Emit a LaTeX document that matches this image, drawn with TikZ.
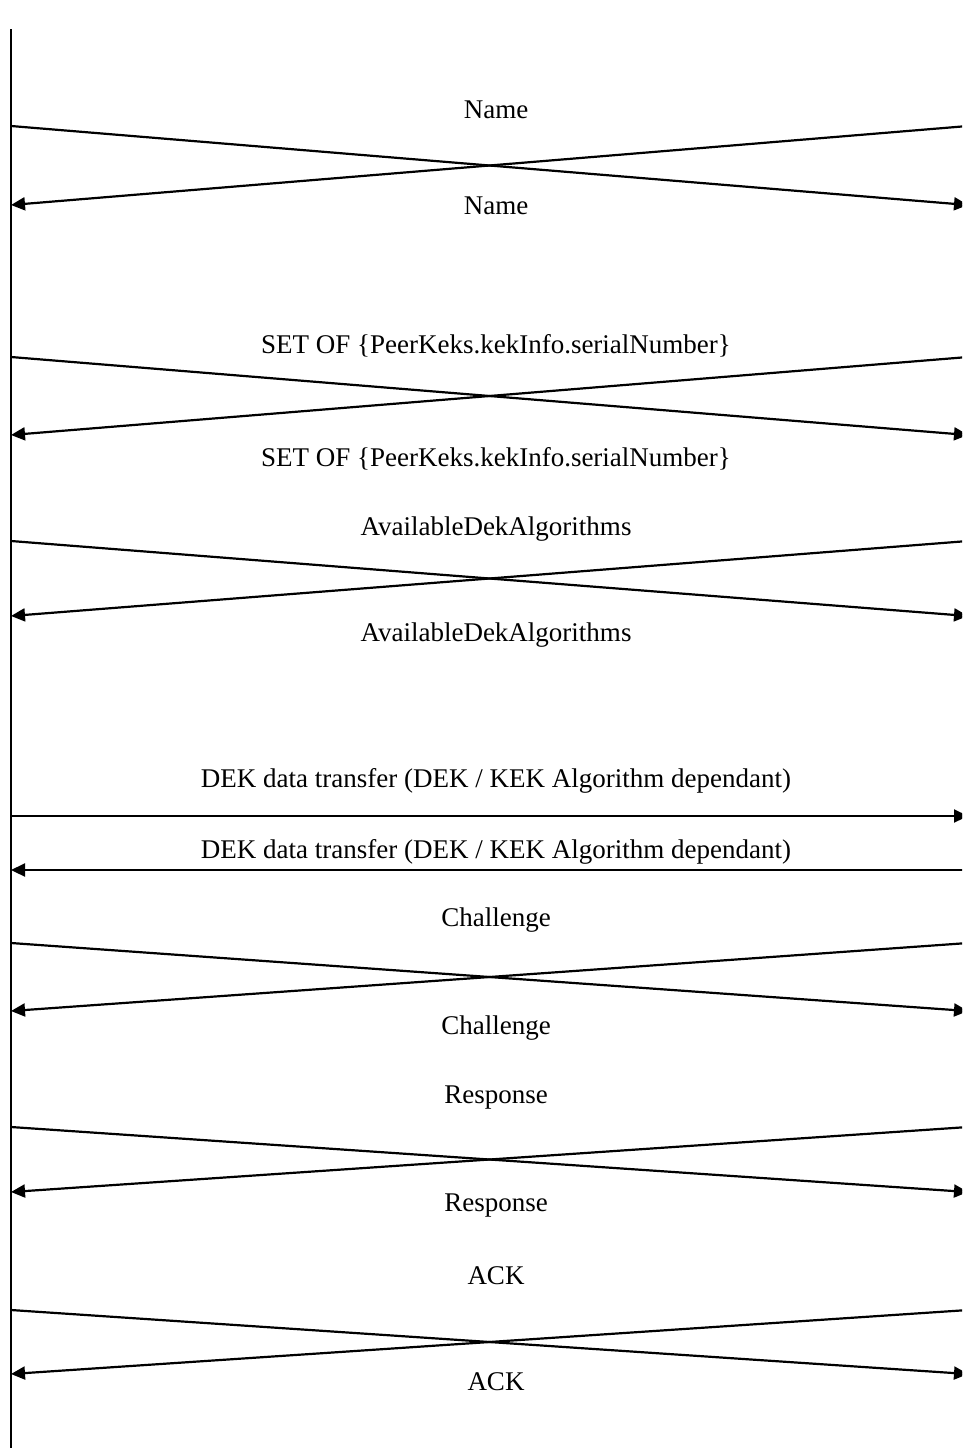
\documentclass[tikz,border=0pt]{standalone}
\usepackage{fontspec}
\setmainfont{Liberation Serif}
\usetikzlibrary{arrows.meta}
\begin{document}
\begin{tikzpicture}[x=1pt,y=-1pt,
  life/.style={line width=2.2pt},
  msg/.style={line width=2.2pt,-{Triangle[length=14pt,width=13pt]}},
  lbl/.style={font=\fontsize{27}{31}\selectfont,inner sep=0pt,anchor=center}]
\useasboundingbox (0,0) rectangle (962,1448);
\clip (0,0) rectangle (962,1448);
% lifeline of the left party (the right one lies just past the right edge)
\coordinate (Ltop) at (11,29);
\coordinate (Lbot) at (11,1448);
\draw[life] (Ltop) -- (Lbot);
% crossed exchanges: index, start row, end row, upper label row, lower label row, text
\foreach \i/\ya/\yb/\ta/\tb/\txt in {
  1/126/205/110/206/Name,
  2/357/435/346/459/{SET OF \{PeerKeks.kekInfo.serialNumber\}},
  3/541/616/529/635/AvailableDekAlgorithms,
  5/943/1011/920/1028/Challenge,
  6/1127/1192/1098/1206/Response,
  7/1310/1374/1276/1382/ACK}{
  \coordinate (La\i) at (11,\ya);
  \coordinate (Ra\i) at (968,\ya);
  \coordinate (Lb\i) at (11,\yb);
  \coordinate (Rb\i) at (968,\yb);
  \draw[msg] (La\i) -- (Rb\i);
  \draw[msg] (Ra\i) -- (Lb\i);
  \node[lbl] (ta\i) at (496,\ta) {\txt};
  \node[lbl] (tb\i) at (496,\tb) {\txt};
}
% straight exchange of the DEK data
\coordinate (La4) at (11,816);
\coordinate (Ra4) at (968,816);
\coordinate (Lb4) at (11,870);
\coordinate (Rb4) at (968,870);
\draw[msg] (La4) -- (Ra4);
\draw[msg] (Rb4) -- (Lb4);
\node[lbl] (ta4) at (496,781) {DEK data transfer (DEK / KEK Algorithm dependant)};
\node[lbl] (tb4) at (496,852) {DEK data transfer (DEK / KEK Algorithm dependant)};
\end{tikzpicture}
\end{document}
